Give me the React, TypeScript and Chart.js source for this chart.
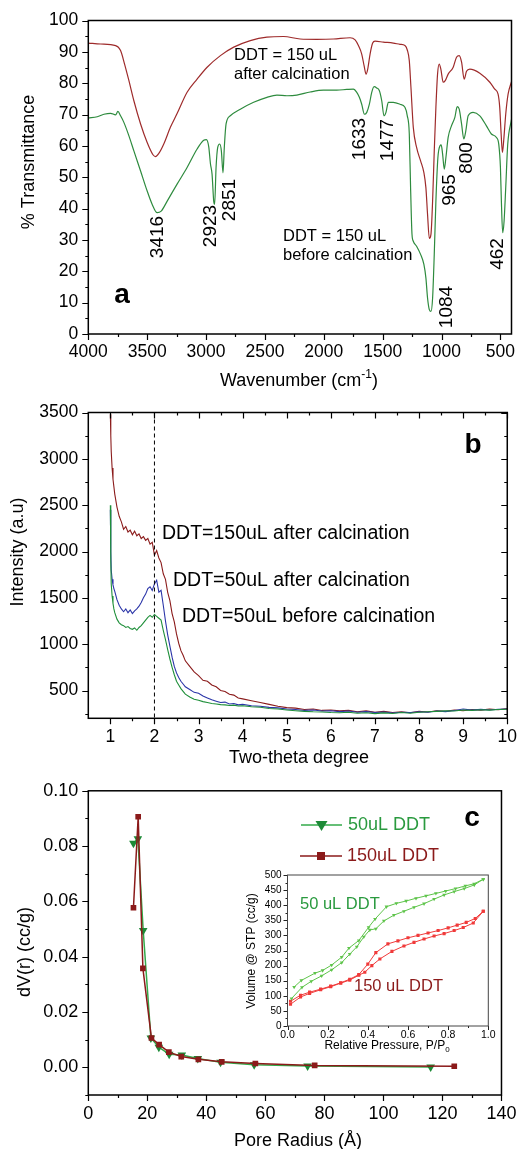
import React, { useEffect, useRef } from 'react';
import { Chart, registerables } from 'chart.js';

Chart.register(...registerables);

const FF = '"Liberation Sans", Arial, Helvetica, sans-serif';

// ---------- Panel a: FTIR ----------
const ftirAfterWavenumber = [4000, 3895, 3768, 3726, 3692, 3655, 3613, 3556, 3500, 3449, 3429, 3401, 3359, 3302, 3246, 3161, 3076, 2991, 2878, 2765, 2624, 2483, 2342, 2201, 2059, 1918, 1777, 1734, 1706, 1678, 1658, 1641, 1627, 1607, 1585, 1565, 1494, 1410, 1353, 1311, 1291, 1274, 1260, 1240, 1212, 1178, 1150, 1133, 1119, 1104, 1090, 1076, 1062, 1048, 1034, 1020, 1006, 986, 969, 944, 901, 873, 850, 830, 808, 788, 760, 675, 590, 548, 520, 506, 494, 483, 472, 455, 435, 406];
const ftirAfterT = [92.8, 92.5, 92.0, 90.4, 86.1, 80.8, 74.4, 67.0, 61.1, 57.1, 56.6, 57.6, 60.6, 66.0, 70.3, 77.1, 81.3, 85.1, 88.8, 91.5, 93.6, 94.7, 94.9, 94.1, 94.0, 94.1, 94.5, 93.8, 92.0, 89.3, 85.6, 82.9, 84.5, 89.3, 92.8, 93.4, 93.1, 92.8, 92.4, 92.0, 90.6, 87.2, 78.7, 65.9, 59.5, 55.2, 51.5, 46.7, 38.2, 30.5, 31.8, 42.4, 58.4, 72.3, 82.9, 86.1, 84.5, 80.3, 80.8, 82.9, 85.1, 88.3, 88.8, 86.7, 81.3, 83.8, 84.5, 83.2, 80.3, 78.1, 76.5, 72.3, 63.8, 57.9, 61.8, 70.1, 76.5, 80.5];
const ftirBeforeWavenumber = [4000, 3924, 3867, 3811, 3768, 3749, 3726, 3698, 3655, 3613, 3556, 3500, 3458, 3415, 3381, 3330, 3246, 3161, 3076, 3020, 2997, 2977, 2963, 2949, 2935, 2927, 2915, 2901, 2884, 2870, 2856, 2845, 2830, 2794, 2709, 2596, 2483, 2398, 2313, 2229, 2116, 2003, 1890, 1805, 1749, 1720, 1698, 1678, 1655, 1635, 1613, 1593, 1573, 1551, 1528, 1508, 1489, 1472, 1452, 1410, 1353, 1311, 1291, 1274, 1263, 1251, 1240, 1212, 1178, 1150, 1133, 1119, 1104, 1090, 1076, 1062, 1048, 1031, 1014, 1003, 991, 977, 963, 944, 916, 887, 867, 850, 830, 811, 794, 774, 732, 675, 619, 577, 534, 514, 500, 492, 481, 469, 455, 438, 406];
const ftirBeforeT = [68.9, 69.3, 70.1, 70.4, 69.9, 71.0, 69.6, 67.5, 63.2, 58.4, 52.0, 45.6, 41.4, 38.7, 39.2, 42.4, 47.8, 53.1, 59.0, 61.8, 62.0, 59.7, 54.4, 51.0, 42.4, 41.4, 53.1, 59.5, 60.6, 58.4, 51.4, 59.5, 67.0, 69.6, 71.7, 73.9, 75.5, 76.2, 76.0, 76.2, 77.2, 77.8, 77.8, 78.0, 78.1, 77.1, 75.5, 73.3, 70.1, 70.7, 73.3, 77.1, 78.9, 78.5, 77.6, 74.4, 69.6, 70.7, 73.9, 73.9, 73.3, 72.3, 69.6, 63.8, 46.7, 31.8, 29.6, 28.0, 25.4, 22.2, 17.9, 11.5, 7.8, 7.2, 11.5, 25.4, 42.4, 56.3, 60.0, 60.3, 57.4, 52.6, 56.3, 62.7, 66.4, 69.1, 72.5, 71.7, 67.0, 62.2, 64.8, 69.6, 70.7, 69.6, 66.4, 63.8, 62.7, 60.5, 53.1, 42.4, 32.3, 36.0, 46.7, 60.5, 68.5];
const ftirXTicks = [4000, 3500, 3000, 2500, 2000, 1500, 1000, 500];
const ftirXMinor = [3750, 3250, 2750, 2250, 1750, 1250, 750];
const ftirYTicks = [0, 10, 20, 30, 40, 50, 60, 70, 80, 90, 100];
const ftirYMinor = [5, 15, 25, 35, 45, 55, 65, 75, 85, 95];
const peakLabels = ['3416', '2923', '2851', '1633', '1477', '965', '800', '1084', '462'];

// ---------- Panel b: XRD ----------
const xrdTheta = [1.0, 1.01, 1.02, 1.04, 1.06, 1.08, 1.1, 1.15, 1.2, 1.25, 1.3, 1.35, 1.4, 1.45, 1.5, 1.55, 1.6, 1.65, 1.7, 1.75, 1.8, 1.85, 1.9, 1.95, 2.0, 2.05, 2.1, 2.15, 2.2, 2.25, 2.3, 2.35, 2.4, 2.45, 2.5, 2.55, 2.6, 2.65, 2.7, 2.8, 2.9, 3.0, 3.1, 3.2, 3.3, 3.4, 3.5, 3.6, 3.7, 3.8, 3.9, 4.0, 4.2, 4.4, 4.6, 4.8, 5.0, 5.2, 5.4, 5.6, 5.8, 6.0, 6.2, 6.4, 6.6, 6.8, 7.0, 7.2, 7.4, 7.6, 7.8, 8.0, 8.2, 8.4, 8.6, 8.8, 9.0, 9.2, 9.4, 9.6, 9.8, 10.0];
const xrd150After = [3480, 3250, 3080, 2900, 2780, 2700, 2620, 2480, 2380, 2320, 2240, 2270, 2210, 2230, 2180, 2220, 2170, 2190, 2140, 2160, 2120, 2140, 2080, 2100, 1960, 2010, 1930, 1880, 1760, 1700, 1560, 1470, 1330, 1240, 1110, 1010, 930, 880, 820, 760, 700, 660, 610, 600, 560, 540, 500, 490, 460, 450, 420, 410, 390, 370, 350, 330, 315, 310, 295, 300, 285, 290, 280, 285, 270, 280, 265, 275, 262, 270, 260, 275, 268, 282, 275, 290, 282, 295, 288, 300, 292, 305];
const xrd50After = [2450, 2000, 1800, 1700, 1640, 1600, 1570, 1480, 1420, 1380, 1350, 1380, 1340, 1370, 1330, 1360, 1380, 1410, 1450, 1500, 1540, 1600, 1620, 1580, 1650, 1690, 1560, 1580, 1420, 1250, 1100, 980, 860, 760, 690, 640, 600, 570, 540, 510, 480, 470, 440, 420, 400, 385, 370, 375, 355, 360, 345, 350, 335, 330, 318, 312, 300, 295, 285, 290, 278, 282, 272, 278, 265, 272, 262, 268, 258, 266, 262, 270, 265, 278, 272, 285, 300, 288, 296, 290, 298, 300];
const xrd50Before = [2500, 1900, 1650, 1520, 1440, 1380, 1340, 1270, 1230, 1210, 1200, 1180, 1190, 1170, 1160, 1175, 1150, 1180, 1200, 1230, 1260, 1290, 1310, 1290, 1320, 1300, 1280, 1260, 1150, 1050, 940, 840, 750, 670, 600, 560, 520, 490, 460, 430, 405, 395, 380, 370, 360, 355, 348, 345, 338, 342, 332, 335, 325, 320, 305, 300, 290, 282, 275, 270, 268, 262, 260, 265, 255, 260, 250, 258, 252, 262, 255, 265, 270, 275, 280, 278, 290, 285, 292, 288, 295, 298];
const xrdXTicks = [1, 2, 3, 4, 5, 6, 7, 8, 9, 10];
const xrdXMinor = [1.5, 2.5, 3.5, 4.5, 5.5, 6.5, 7.5, 8.5, 9.5];
const xrdYTicks = [500, 1000, 1500, 2000, 2500, 3000, 3500];
const xrdYMinor = [250, 750, 1250, 1750, 2250, 2750, 3250];
const xrdLabels = ['DDT=150uL after calcination', 'DDT=50uL after calcination', 'DDT=50uL before calcination'];

// ---------- Panel c: pore size distribution ----------
const psdRadius50 = [15.3, 16.8, 18.6, 21.2, 23.9, 27.4, 31.7, 37.1, 44.8, 56.2, 74.3, 116.0];
const psdDv50 = [0.0810, 0.0827, 0.0495, 0.0106, 0.0073, 0.0047, 0.0045, 0.0032, 0.0018, 0.0009, 0.0005, 0.0001];
const psdRadius150 = [15.3, 16.9, 18.5, 21.4, 24.0, 27.3, 31.5, 37.3, 45.2, 56.6, 76.7, 124.0];
const psdDv150 = [0.0577, 0.0906, 0.0358, 0.0106, 0.0082, 0.0055, 0.0039, 0.0029, 0.0020, 0.0014, 0.0007, 0.0004];
const psdXTicks = [0, 20, 40, 60, 80, 100, 120, 140];
const psdXMinor = [10, 30, 50, 70, 90, 110, 130];
const psdYTicks = [0, 0.02, 0.04, 0.06, 0.08, 0.1];
const psdYMinor = [-0.01, 0.01, 0.03, 0.05, 0.07, 0.09];

// ---------- Inset: isotherms ----------
const iso50AdsP = [0.02, 0.072, 0.118, 0.17, 0.22, 0.27, 0.31, 0.345, 0.38, 0.41, 0.44, 0.48, 0.53, 0.58, 0.63, 0.68, 0.73, 0.78, 0.83, 0.88, 0.93, 0.975];
const iso50AdsV = [91, 128, 148, 166, 186, 210, 238, 262, 295, 318, 322, 348, 367, 380, 393, 405, 420, 434, 445, 455, 467, 486];
const iso50DesP = [0.033, 0.069, 0.137, 0.175, 0.22, 0.27, 0.306, 0.355, 0.404, 0.436, 0.493, 0.542, 0.591, 0.64, 0.69, 0.739, 0.788, 0.837, 0.886, 0.93, 0.975];
const iso50DesV = [129, 151, 175, 184, 202, 228, 258, 283, 327, 354, 395, 406, 414, 423, 431, 439, 447, 455, 464, 471, 486];
const iso150AdsP = [0.015, 0.065, 0.11, 0.165, 0.215, 0.265, 0.31, 0.355, 0.385, 0.42, 0.46, 0.52, 0.58, 0.63, 0.68, 0.73, 0.78, 0.83, 0.875, 0.925, 0.975];
const iso150AdsV = [72, 96, 108, 120, 130, 142, 152, 168, 178, 200, 222, 247, 265, 277, 288, 298, 306, 316, 326, 341, 380];
const iso150DesP = [0.015, 0.065, 0.11, 0.165, 0.215, 0.265, 0.31, 0.355, 0.4, 0.44, 0.5, 0.55, 0.6, 0.65, 0.7, 0.75, 0.8, 0.845, 0.89, 0.935, 0.975];
const iso150DesV = [82, 102, 112, 122, 132, 143, 155, 170, 205, 243, 272, 282, 292, 300, 308, 316, 325, 334, 343, 356, 380];
const isoXTicks = [0, 0.2, 0.4, 0.6, 0.8, 1.0];
const isoXMinor = [0.1, 0.3, 0.5, 0.7, 0.9];
const isoYTicks = [0, 50, 100, 150, 200, 250, 300, 350, 400, 450, 500];
const isoYMinor = [25, 75, 125, 175, 225, 275, 325, 375, 425, 475];

const RED_A = '#9e2b2b';
const GREEN_A = '#2e8b3e';
const RED_B = '#8b1c1c';
const BLUE_B = '#2b35a8';
const GREEN_B = '#1f8f3a';
const GREEN_TXT = '#2a9a3f';
const RED_TXT = '#8b1a1a';

const pts = (xs: number[], ys: number[]) => xs.map((x, i) => ({ x, y: ys[i] }));

// draw frame, tick marks, optional dashed vlines
const axisFrame = {
  id: 'axisFrame',
  afterDatasetsDraw(chart: any, _a: any, o: any) {
    const { ctx, chartArea: a } = chart;
    const xs = chart.scales.x;
    const ys = chart.scales.y;
    ctx.save();
    if (o.vlines) {
      ctx.strokeStyle = '#000';
      ctx.lineWidth = 1;
      ctx.setLineDash([4, 3]);
      for (const v of o.vlines) {
        const px = xs.getPixelForValue(v);
        ctx.beginPath();
        ctx.moveTo(px, a.top);
        ctx.lineTo(px, a.bottom);
        ctx.stroke();
      }
      ctx.setLineDash([]);
    }
    ctx.strokeStyle = o.color || '#000';
    ctx.lineWidth = o.tickWidth || 1.2;
    ctx.beginPath();
    const line = (x1: number, y1: number, x2: number, y2: number) => {
      ctx.moveTo(x1, y1);
      ctx.lineTo(x2, y2);
    };
    const doX = (vals: number[], len: number) =>
      vals.forEach((v) => {
        const px = Math.round(xs.getPixelForValue(v)) + 0.5;
        line(px, a.bottom, px, a.bottom + len);
        if (o.mirror) line(px, a.top, px, a.top + len);
      });
    const doY = (vals: number[], len: number) =>
      vals.forEach((v) => {
        const py = Math.round(ys.getPixelForValue(v)) + 0.5;
        line(a.left, py, a.left - len, py);
        if (o.mirror) line(a.right, py, a.right - len, py);
      });
    doX(o.xMajor, o.majorLen);
    doX(o.xMinor, o.minorLen);
    doY(o.yMajor, o.majorLen);
    doY(o.yMinor, o.minorLen);
    ctx.stroke();
    ctx.lineWidth = o.frameWidth || 1.5;
    ctx.strokeStyle = o.frameColor || o.color || '#000';
    ctx.strokeRect(a.left, a.top, a.right - a.left, a.bottom - a.top);
    ctx.restore();
  },
};

// text layer; items in page coordinates, converted with offsets
const textLayer = {
  id: 'textLayer',
  afterDraw(chart: any, _a: any, o: any) {
    const ctx = chart.ctx;
    for (const it of o.items) {
      ctx.save();
      ctx.fillStyle = it.color || '#000';
      ctx.textBaseline = 'middle';
      ctx.textAlign = 'left';
      ctx.translate(it.x - o.left, it.y - o.top);
      if (it.rotate) ctx.rotate((it.rotate * Math.PI) / 180);
      const parts = it.parts || [{ t: it.text }];
      const fontOf = (p: any) => `${p.bold || it.bold ? 'bold ' : ''}${p.size || it.size}px ${FF}`;
      let total = 0;
      for (const p of parts) {
        ctx.font = fontOf(p);
        total += ctx.measureText(p.t).width;
      }
      let x = it.align === 'center' ? -total / 2 : 0;
      for (const p of parts) {
        ctx.font = fontOf(p);
        ctx.fillText(p.t, x, p.dy || 0);
        x += ctx.measureText(p.t).width;
      }
      ctx.restore();
    }
    if (o.legend) {
      for (const lg of o.legend) {
        ctx.save();
        ctx.translate(-o.left, -o.top);
        ctx.strokeStyle = lg.color;
        ctx.fillStyle = lg.marker;
        ctx.lineWidth = 1.5;
        ctx.beginPath();
        ctx.moveTo(lg.x1, lg.y);
        ctx.lineTo(lg.x2, lg.y);
        ctx.stroke();
        const cx = (lg.x1 + lg.x2) / 2;
        const r = lg.r;
        ctx.beginPath();
        if (lg.shape === 'tri') {
          ctx.moveTo(cx - r, lg.y - r * 0.65);
          ctx.lineTo(cx + r, lg.y - r * 0.65);
          ctx.lineTo(cx, lg.y + r);
          ctx.closePath();
        } else {
          ctx.rect(cx - r * 0.8, lg.y - r * 0.8, r * 1.6, r * 1.6);
        }
        ctx.fill();
        ctx.restore();
      }
    }
  },
};

function axis(cfg: any) {
  return {
    type: 'linear',
    min: cfg.min,
    max: cfg.max,
    reverse: !!cfg.reverse,
    grid: { display: false, drawTicks: false, drawOnChartArea: false },
    border: { display: false },
    ticks: {
      autoSkip: false,
      maxRotation: 0,
      minRotation: 0,
      padding: cfg.pad,
      color: '#000',
      font: { family: FF, size: cfg.fontSize },
      callback: (v: number) => cfg.fmt(v),
    },
    afterBuildTicks: (s: any) => {
      s.ticks = cfg.ticks.map((v: number) => ({ value: v }));
    },
    afterFit: (s: any) => {
      if (cfg.isX) s.height = cfg.size;
      else s.width = cfg.size;
    },
  };
}

function baseOptions(padding: any, scales: any, plugins: any) {
  return {
    responsive: false,
    maintainAspectRatio: false,
    devicePixelRatio: 1,
    animation: false,
    events: [],
    layout: { padding, autoPadding: false },
    scales,
    plugins: { legend: { display: false }, tooltip: { enabled: false }, ...plugins },
  };
}

export default function App() {
  const refA = useRef<HTMLCanvasElement>(null);
  const refB = useRef<HTMLCanvasElement>(null);
  const refC = useRef<HTMLCanvasElement>(null);
  const refI = useRef<HTMLCanvasElement>(null);

  useEffect(() => {
    const charts: Chart[] = [];

    // ---------- Panel a ----------
    const peakPos = [
      [158, 237], [211, 226], [230, 200], [360, 139], [388, 140], [450, 190], [467, 158], [447, 307], [498, 254],
    ];
    charts.push(
      new Chart(refA.current as HTMLCanvasElement, {
        type: 'line',
        data: {
          datasets: [
            { data: pts(ftirAfterWavenumber, ftirAfterT), borderColor: RED_A, borderWidth: 1.2, pointRadius: 0, cubicInterpolationMode: 'monotone' },
            { data: pts(ftirBeforeWavenumber, ftirBeforeT), borderColor: GREEN_A, borderWidth: 1.2, pointRadius: 0, cubicInterpolationMode: 'monotone' },
          ],
        } as any,
        options: baseOptions(
          { left: 0, right: 13.5, top: 20, bottom: 0 },
          {
            x: axis({ isX: true, min: 406, max: 4000, reverse: true, ticks: ftirXTicks, fmt: (v: number) => String(v), pad: 7.5, fontSize: 17.5, size: 58 }),
            y: axis({ min: 0, max: 100, ticks: ftirYTicks, fmt: (v: number) => String(v), pad: 10, fontSize: 17.5, size: 88.3 }),
          },
          {
            axisFrame: { xMajor: ftirXTicks, xMinor: ftirXMinor, yMajor: ftirYTicks, yMinor: ftirYMinor, majorLen: 6, minorLen: 3, mirror: false },
            textLayer: {
              left: 0,
              top: 0,
              items: [
                { text: 'DDT = 150 uL', x: 234, y: 55, size: 16.5 },
                { text: 'after calcination', x: 234, y: 74, size: 16.5 },
                { text: 'DDT = 150 uL', x: 283, y: 236, size: 16.5 },
                { text: 'before calcination', x: 283, y: 255, size: 16.5 },
                ...peakLabels.map((t, i) => ({ text: t, x: peakPos[i][0], y: peakPos[i][1], size: 19, rotate: -90, align: 'center' })),
                { text: 'a', x: 122, y: 295, size: 28, bold: true, align: 'center' },
                { text: '% Transmittance', x: 29, y: 162, size: 18, rotate: -90, align: 'center' },
                { x: 299, y: 381, size: 18, align: 'center', parts: [{ t: 'Wavenumber (cm' }, { t: '-1', size: 12, dy: -6 }, { t: ')' }] },
              ],
            },
          }
        ) as any,
        plugins: [axisFrame, textLayer],
      })
    );

    // ---------- Panel b ----------
    charts.push(
      new Chart(refB.current as HTMLCanvasElement, {
        type: 'line',
        data: {
          datasets: [
            { data: pts(xrdTheta, xrd50Before), borderColor: GREEN_B, borderWidth: 1.1, pointRadius: 0 },
            { data: pts(xrdTheta, xrd50After), borderColor: BLUE_B, borderWidth: 1.1, pointRadius: 0 },
            { data: pts(xrdTheta, xrd150After), borderColor: RED_B, borderWidth: 1.1, pointRadius: 0 },
          ],
        } as any,
        options: baseOptions(
          { left: 0, right: 13, top: 11.3, bottom: 0 },
          {
            x: axis({ isX: true, min: 0.5, max: 10, ticks: xrdXTicks, fmt: (v: number) => String(v), pad: 8, fontSize: 17.5, size: 51.7 }),
            y: axis({ min: 200, max: 3500, ticks: xrdYTicks, fmt: (v: number) => String(v), pad: 10, fontSize: 17.5, size: 88.3 }),
          },
          {
            axisFrame: { xMajor: xrdXTicks, xMinor: xrdXMinor, yMajor: xrdYTicks, yMinor: xrdYMinor, majorLen: 6, minorLen: 3, mirror: true, vlines: [2] },
            textLayer: {
              left: 0,
              top: 392,
              items: [
                { text: xrdLabels[0], x: 162, y: 534, size: 19.5 },
                { text: xrdLabels[1], x: 173, y: 581, size: 19.5 },
                { text: xrdLabels[2], x: 182, y: 617, size: 19.5 },
                { text: 'b', x: 473, y: 445, size: 28, bold: true, align: 'center' },
                { text: 'Intensity (a.u)', x: 18, y: 552, size: 18, rotate: -90, align: 'center' },
                { text: 'Two-theta degree', x: 299, y: 758, size: 18, align: 'center' },
              ],
            },
          }
        ) as any,
        plugins: [axisFrame, textLayer],
      })
    );

    // ---------- Panel c ----------
    charts.push(
      new Chart(refC.current as HTMLCanvasElement, {
        type: 'line',
        data: {
          datasets: [
            { data: pts(psdRadius150, psdDv150), borderColor: RED_TXT, backgroundColor: RED_TXT, borderWidth: 1.5, pointStyle: 'rect', pointRadius: 4, pointBorderWidth: 0 },
            { data: pts(psdRadius50, psdDv50), borderColor: '#33aa4a', backgroundColor: '#1d8a37', borderWidth: 1.5, pointStyle: 'triangle', pointRotation: 180, pointRadius: 5, pointBorderWidth: 0 },
          ],
        } as any,
        options: baseOptions(
          { left: 0, right: 13.5, top: 11.7, bottom: 0 },
          {
            x: axis({ isX: true, min: 0, max: 140, ticks: psdXTicks, fmt: (v: number) => String(v), pad: 8.5, fontSize: 18, size: 54 }),
            y: axis({ min: -0.01, max: 0.1, ticks: psdYTicks, fmt: (v: number) => v.toFixed(2), pad: 10, fontSize: 18, size: 88.3 }),
          },
          {
            axisFrame: { xMajor: psdXTicks, xMinor: psdXMinor, yMajor: psdYTicks, yMinor: psdYMinor, majorLen: 6, minorLen: 3, mirror: false },
            textLayer: {
              left: 0,
              top: 770,
              items: [
                { text: '50uL DDT', x: 348, y: 825, size: 18, color: GREEN_TXT },
                { text: '150uL DDT', x: 347, y: 856, size: 18, color: RED_TXT },
                { text: 'c', x: 472, y: 818, size: 28, bold: true, align: 'center' },
                { text: 'dV(r) (cc/g)', x: 25, y: 952, size: 18, rotate: -90, align: 'center' },
                { text: 'Pore Radius (Å)', x: 298, y: 1141, size: 18, align: 'center' },
              ],
              legend: [
                { x1: 301, x2: 342, y: 825, color: '#33aa4a', marker: '#1d8a37', shape: 'tri', r: 6 },
                { x1: 300, x2: 342, y: 856, color: RED_TXT, marker: RED_TXT, shape: 'rect', r: 5 },
              ],
            },
          }
        ) as any,
        plugins: [axisFrame, textLayer],
      })
    );

    // ---------- Inset ----------
    const isoGreen = '#5ec44a';
    const isoRed = '#f03a3a';
    const isoDs = (xs: number[], ys: number[], c: string, style: string) => ({
      data: pts(xs, ys),
      borderColor: c,
      backgroundColor: c,
      borderWidth: 1,
      pointStyle: style,
      pointRotation: style === 'triangle' ? 180 : 0,
      pointRadius: 2.2,
      pointBorderWidth: 0,
    });
    charts.push(
      new Chart(refI.current as HTMLCanvasElement, {
        type: 'line',
        data: {
          datasets: [
            isoDs(iso50AdsP, iso50AdsV, isoGreen, 'triangle'),
            isoDs(iso50DesP, iso50DesV, isoGreen, 'triangle'),
            isoDs(iso150AdsP, iso150AdsV, isoRed, 'rect'),
            isoDs(iso150DesP, iso150DesV, isoRed, 'rect'),
          ],
        } as any,
        options: baseOptions(
          { left: 0, right: 11.7, top: 15, bottom: 0 },
          {
            x: axis({ isX: true, min: 0, max: 1, ticks: isoXTicks, fmt: (v: number) => v.toFixed(1), pad: 3, fontSize: 10.5, size: 34 }),
            y: axis({ min: 0, max: 500, ticks: isoYTicks, fmt: (v: number) => String(v), pad: 6, fontSize: 10, size: 47.5 }),
          },
          {
            axisFrame: { xMajor: isoXTicks, xMinor: isoXMinor, yMajor: isoYTicks, yMinor: isoYMinor, majorLen: 4, minorLen: 2, mirror: false, frameWidth: 1, tickWidth: 1, color: '#222', frameColor: '#444' },
            textLayer: {
              left: 240,
              top: 860,
              items: [
                { text: '50 uL DDT', x: 300, y: 904, size: 16.5, color: GREEN_TXT },
                { text: '150 uL DDT', x: 354, y: 986, size: 16.5, color: RED_TXT },
                { text: 'Volume @ STP (cc/g)', x: 252, y: 951, size: 12, rotate: -90, align: 'center' },
                { x: 387, y: 1046, size: 12, align: 'center', parts: [{ t: 'Relative Pressure, P/P' }, { t: '0', size: 8, dy: 4 }] },
              ],
            },
          }
        ) as any,
        plugins: [axisFrame, textLayer],
      })
    );

    return () => charts.forEach((c) => c.destroy());
  }, []);

  const abs = (left: number, top: number): React.CSSProperties => ({ position: 'absolute', left, top, display: 'block' });

  return (
    <div style={{ position: 'absolute', left: 0, top: 0, width: 525, height: 1149, background: '#fff', overflow: 'hidden' }}>
      <canvas ref={refA} width={525} height={392} style={abs(0, 0)} />
      <canvas ref={refB} width={525} height={378} style={abs(0, 392)} />
      <canvas ref={refC} width={525} height={379} style={abs(0, 770)} />
      <canvas ref={refI} width={260} height={200} style={abs(240, 860)} />
    </div>
  );
}
